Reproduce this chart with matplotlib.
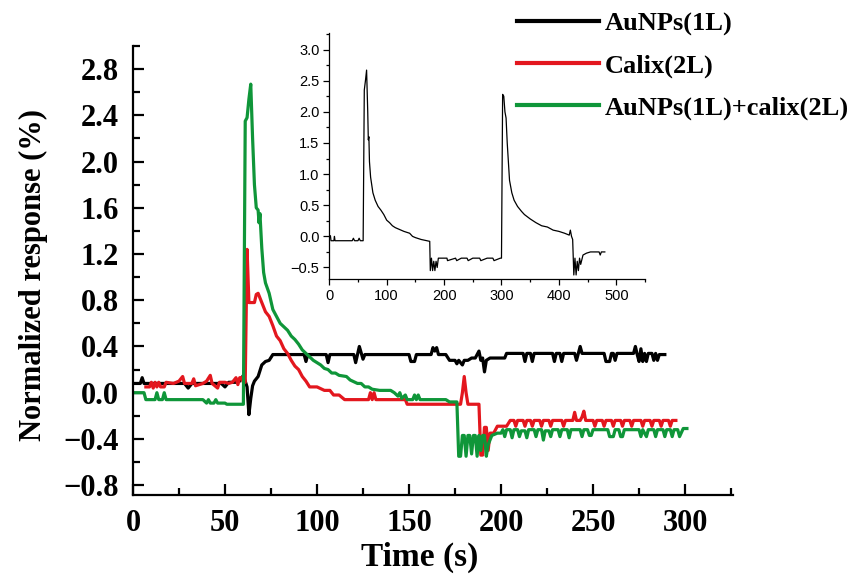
import matplotlib
matplotlib.use("Agg")
import matplotlib.pyplot as plt
from matplotlib.ticker import MultipleLocator

# ---------------- data ----------------
au_t = [0, 4, 5, 6, 28, 30, 32, 48, 50, 52, 56, 58, 60, 61, 62, 63, 64, 65, 66, 68, 70, 72, 74, 76,
        93, 94, 95, 105, 106, 107, 120, 121, 123, 125, 126, 150, 151, 153, 154, 162, 163, 164, 165, 166,
        170, 172, 175, 176, 177, 179, 180, 182, 184, 186, 188, 189, 190, 191, 192, 194, 202, 203, 212,
        213, 214, 216, 217, 218, 228, 229, 230, 232, 233, 234, 240, 241, 243, 244, 256, 257, 259, 260,
        261, 262, 263, 272, 273, 274, 275, 276, 277, 278, 279, 280, 282, 283, 284, 285, 286, 289]
au_v = [0.08, 0.08, 0.13, 0.08, 0.08, 0.04, 0.08, 0.08, 0.05, 0.09, 0.09, 0.10, 0.15, 0.10, 0.05, -0.19,
        -0.05, 0.06, 0.10, 0.14, 0.24, 0.27, 0.28, 0.33,
        0.33, 0.27, 0.33, 0.33, 0.26, 0.33, 0.33, 0.26, 0.40, 0.29, 0.33, 0.33, 0.27, 0.27, 0.33, 0.33,
        0.39, 0.36, 0.39, 0.33,
        0.33, 0.28, 0.28, 0.25, 0.28, 0.24, 0.28, 0.28, 0.30, 0.30, 0.36, 0.28, 0.30, 0.18, 0.28, 0.30,
        0.30, 0.34, 0.34,
        0.27, 0.34, 0.34, 0.27, 0.34, 0.34, 0.27, 0.34, 0.34, 0.27, 0.34, 0.34, 0.28, 0.40, 0.34, 0.34,
        0.27, 0.27, 0.34,
        0.34, 0.28, 0.34, 0.34, 0.40, 0.33, 0.27, 0.38, 0.27, 0.34, 0.27, 0.34, 0.34, 0.28, 0.34, 0.28,
        0.33, 0.33]

calix_t = [7, 9, 10, 11, 12, 13, 14, 15, 17, 18, 22, 25, 27, 28, 32, 33, 34, 38, 40, 42, 43, 46, 47, 50,
           52, 54, 56, 57, 58, 59, 60, 61, 62, 63, 66, 67, 68, 70, 72, 74, 76, 78, 80, 82, 84, 86, 88,
           90, 92, 94, 96, 100, 104, 107, 109, 112, 115, 128, 129, 130, 131, 132, 133, 148, 149, 178,
           179, 180, 181, 182, 188, 189, 190, 191, 192, 193, 194, 196, 198, 203,
           205, 207, 208, 209, 212, 213, 214, 216, 217, 218, 221, 222, 223, 226, 227, 228, 233, 234,
           235, 239, 240, 241, 243, 244, 245, 246, 250, 251, 252, 255, 256, 257, 260, 261, 262, 265,
           266, 267, 270, 271, 272, 276, 277, 278, 281, 282, 283, 286, 287, 288, 291, 292, 293, 295]
calix_v = [0.05, 0.05, 0.09, 0.04, 0.09, 0.05, 0.09, 0.05, 0.05, 0.09, 0.08, 0.10, 0.14, 0.08, 0.08,
           0.12, 0.06, 0.08, 0.10, 0.15, 0.08, 0.04, 0.09, 0.09,
           0.08, 0.09, 0.13, 0.07, 0.13, 0.13, 0.09, 0.09, 1.24, 0.78, 0.78, 0.85, 0.86, 0.78, 0.70,
           0.66, 0.58, 0.49, 0.45, 0.38, 0.34, 0.28, 0.23,
           0.20, 0.14, 0.10, 0.05, 0.05, 0.02, 0.02, -0.02, -0.02, -0.06, -0.06, 0.00, -0.06, 0.00,
           -0.06, -0.06, -0.06, -0.10, -0.10,
           0.00, 0.14, 0.00, -0.10, -0.10, -0.54, -0.54, -0.30, -0.30, -0.50, -0.35, -0.35, -0.29,
           -0.29,
           -0.24, -0.24, -0.29, -0.24, -0.24, -0.29, -0.24, -0.24, -0.29, -0.24, -0.24, -0.29, -0.24,
           -0.24, -0.29, -0.24, -0.24, -0.29,
           -0.24, -0.24, -0.17, -0.24, -0.24, -0.21, -0.16, -0.24, -0.24, -0.29, -0.24, -0.24, -0.29,
           -0.24, -0.24, -0.29, -0.24, -0.24,
           -0.29, -0.24, -0.24, -0.29, -0.24, -0.24, -0.29, -0.24, -0.24, -0.29, -0.24, -0.24, -0.29,
           -0.24, -0.24, -0.29, -0.24, -0.24]

mix_t = [0, 6, 7, 12, 13, 14, 16, 17, 18, 38, 40, 41, 42, 44, 45, 46, 50, 51, 60, 61, 62, 63, 64, 65,
         66, 67, 68, 68.5, 69, 70, 71, 72, 74, 76, 78, 80, 82, 84, 86, 88, 90, 92, 94, 96, 98, 100,
         102, 104, 106, 108, 110, 112, 116, 118, 122, 124, 126, 128, 130, 134, 140, 142, 144, 145,
         146, 148, 149, 152, 153, 154, 155, 156, 170, 172, 176, 177, 178, 179, 180, 181, 182, 183,
         184, 185, 186, 187, 188, 189, 190, 191, 192, 193, 195, 198, 200,
         201, 202, 203, 205, 206, 207, 209, 210, 211, 213, 214, 215, 218, 219, 220, 222, 223, 224,
         226, 227, 228, 231, 232, 233, 236, 237, 238, 243, 244, 245, 247, 248, 249, 250, 258, 259,
         261, 262, 264, 265, 266, 267, 275, 276, 277, 279, 280, 283, 284, 285, 288, 289, 290, 292,
         293, 294, 296, 297, 299, 301]
mix_v = [0.00, 0.00, -0.06, -0.06, 0.00, -0.06, -0.06, 0.00, -0.06, -0.06, -0.09, -0.06, -0.09,
         -0.09, -0.06, -0.09, -0.09, -0.10, -0.10, 2.35, 2.38, 2.54, 2.67, 2.20,
         1.80, 1.60, 1.58, 1.47, 1.55, 1.25, 1.04, 0.95, 0.86, 0.72, 0.66, 0.60, 0.57, 0.54, 0.49,
         0.46, 0.42, 0.37, 0.34, 0.31, 0.28, 0.26,
         0.24, 0.21, 0.20, 0.17, 0.17, 0.15, 0.14, 0.11, 0.08, 0.08, 0.05, 0.05, 0.03, 0.02, 0.02,
         0.00, -0.03, 0.00,
         -0.05, -0.02, -0.06, -0.06, -0.02, -0.06, -0.02, -0.06, -0.06, -0.08, -0.08, -0.55, -0.55,
         -0.37, -0.37, -0.55, -0.37, -0.37,
         -0.53, -0.37, -0.37, -0.55, -0.37, -0.50, -0.37, -0.37, -0.55, -0.45, -0.37, -0.35, -0.35,
         -0.32, -0.38, -0.32, -0.32, -0.39, -0.32, -0.32, -0.38, -0.33, -0.33, -0.39, -0.32, -0.32,
         -0.38, -0.32, -0.32, -0.41, -0.33,
         -0.33, -0.38, -0.32, -0.32, -0.38, -0.32, -0.32, -0.39, -0.32, -0.32, -0.38, -0.32, -0.32,
         -0.37, -0.37, -0.32, -0.32, -0.38,
         -0.38, -0.32, -0.32, -0.38, -0.38, -0.32, -0.32, -0.38, -0.32, -0.38, -0.32, -0.32, -0.38,
         -0.32, -0.32, -0.38, -0.32, -0.32,
         -0.38, -0.32, -0.32, -0.38, -0.31, -0.31]

inset_t = [0, 2, 3, 8, 9, 10, 40, 42, 44, 50, 52, 54, 59, 61, 63, 65, 67, 68, 69, 70, 72, 76, 80,
           85, 90, 95, 100, 105, 110, 115, 120, 130, 140, 145, 150, 160, 170, 175, 176, 178, 180,
           182, 184, 186, 188, 190, 200, 205, 206, 220, 222, 230, 240, 242, 250, 262, 264, 275,
           285, 287, 298, 300, 302, 304, 306, 308, 310, 312, 314, 318, 322, 328, 335, 340, 350,
           360, 370, 380, 390, 400, 410, 418, 420, 422, 424, 426, 428, 430, 432, 434, 436, 438,
           442, 448, 455, 470, 472, 474, 480]
inset_v = [0.01, 0.01, -0.07, -0.07, 0.00, -0.07, -0.07, -0.03, -0.07, -0.07, -0.03, -0.07, -0.07,
           2.35, 2.50, 2.67, 2.00, 1.55, 1.60, 1.20, 0.95, 0.70, 0.58,
           0.48, 0.42, 0.35, 0.26, 0.22, 0.17, 0.14, 0.12, 0.08, 0.05, 0.00, -0.02, -0.05, -0.07,
           -0.08, -0.55, -0.35, -0.55,
           -0.40, -0.55, -0.40, -0.50, -0.35, -0.35, -0.35, -0.39, -0.35, -0.39, -0.35, -0.35,
           -0.39, -0.35, -0.35, -0.39, -0.35,
           -0.35, -0.39, -0.35, -0.35, 2.28, 2.25, 2.00, 1.90, 1.50, 1.20, 0.90, 0.70, 0.58,
           0.48, 0.40, 0.35, 0.28,
           0.22, 0.17, 0.15, 0.10, 0.08, 0.05, 0.02, 0.10, 0.00, -0.05, -0.62, -0.35, -0.62,
           -0.40, -0.55, -0.35, -0.45,
           -0.30, -0.27, -0.25, -0.25, -0.30, -0.25, -0.25]

labels = ["AuNPs(1L)", "Calix(2L)", "AuNPs(1L)+calix(2L)"]
colors = ["#000000", "#e3171e", "#0f9639"]
x_ticks = [0, 50, 100, 150, 200, 250, 300]
y_ticks = [-0.8, -0.4, 0.0, 0.4, 0.8, 1.2, 1.6, 2.0, 2.4, 2.8]

# ---------------- figure ----------------
serif = ["Liberation Serif", "DejaVu Serif"]
fig = plt.figure(figsize=(8.48, 5.80), dpi=100)
ax = fig.add_axes([0.1568, 0.1466, 0.7075, 0.7741])

series = [(au_t, au_v), (calix_t, calix_v), (mix_t, mix_v)]
for (t, v), c, lab in zip(series, colors, labels):
    ax.plot(t, v, color=c, lw=2.3, label=lab)

ax.set_xlim(0, 326)
ax.set_ylim(-0.885, 3.0)
ax.set_xticks(x_ticks)
ax.set_yticks(y_ticks)
ax.xaxis.set_minor_locator(MultipleLocator(25))
ax.yaxis.set_minor_locator(MultipleLocator(0.2))
ax.set_yticklabels(["\u22120.8", "\u22120.4", "0.0", "0.4", "0.8", "1.2", "1.6", "2.0", "2.4", "2.8"])
for s in ["top", "right"]:
    ax.spines[s].set_visible(False)
for s in ["left", "bottom"]:
    ax.spines[s].set_linewidth(1.6)
ax.tick_params(which="major", direction="in", length=8, width=1.6)
ax.tick_params(which="minor", direction="in", length=5, width=1.6)
ax.tick_params(axis="both", labelsize=22, pad=10)
for lab in ax.get_xticklabels() + ax.get_yticklabels():
    lab.set_family(serif)
    lab.set_weight("bold")
ax.set_xlabel("Time (s)", family=serif, weight="bold", fontsize=24)
ax.set_ylabel("Normalized response (%)", family=serif, weight="bold", fontsize=22)
ax.xaxis.set_label_coords(0.478, -0.105)
ax.yaxis.set_label_coords(-0.142, 0.49)

fig.legend(handles=[plt.Line2D([], [], color=c, lw=3) for c in colors], labels=labels,
           loc="upper left", bbox_to_anchor=(0.582, 1.02), frameon=False,
           prop={"family": serif, "weight": "bold", "size": 19},
           handlelength=3.1, handletextpad=0.23, labelspacing=0.68)

# ---------------- inset ----------------
sans = ["Liberation Sans", "DejaVu Sans"]
ins = fig.add_axes([0.3883, 0.5184, 0.3723, 0.4241])
ins.plot(inset_t, inset_v, color="black", lw=0.9)
ins.set_xlim(0, 550)
ins.set_ylim(-0.69, 3.26)
ins.set_xticks([0, 100, 200, 300, 400, 500])
ins.set_yticks([-0.5, 0.0, 0.5, 1.0, 1.5, 2.0, 2.5, 3.0])
ins.set_yticklabels(["\u22120.5", "0.0", "0.5", "1.0", "1.5", "2.0", "2.5", "3.0"])
ins.xaxis.set_minor_locator(MultipleLocator(50))
ins.yaxis.set_minor_locator(MultipleLocator(0.25))
for s in ["top", "right"]:
    ins.spines[s].set_visible(False)
for s in ["left", "bottom"]:
    ins.spines[s].set_linewidth(0.9)
ins.tick_params(which="major", direction="out", length=4, width=0.9)
ins.tick_params(which="minor", direction="out", length=2.5, width=0.9)
ins.tick_params(axis="both", labelsize=10.5, pad=3)
for lab in ins.get_xticklabels() + ins.get_yticklabels():
    lab.set_family(sans)
ins.patch.set_alpha(0)

fig.savefig("out.png", dpi=100)
